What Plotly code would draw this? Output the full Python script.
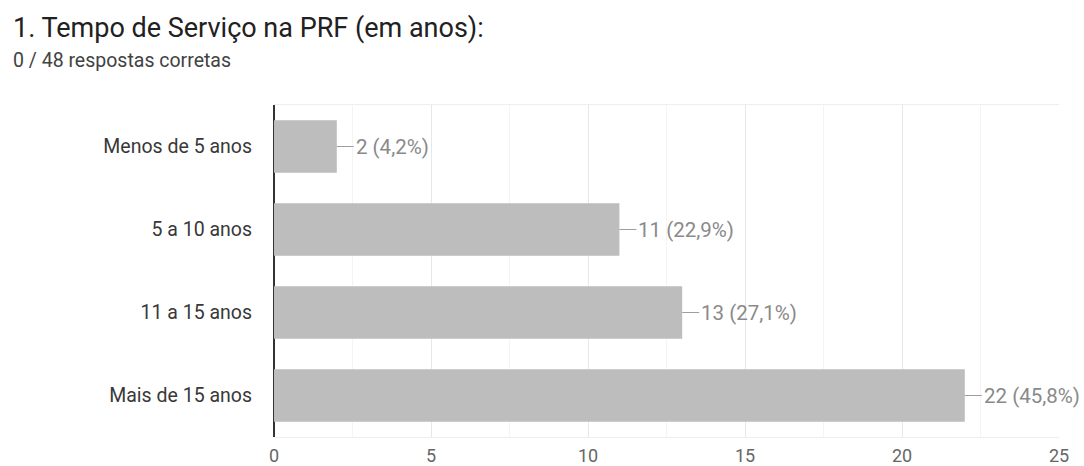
import plotly.graph_objects as go

categories = ["Menos de 5 anos", "5 a 10 anos", "11 a 15 anos", "Mais de 15 anos"]
values = [2, 11, 13, 22]
labels = ["2 (4,2%)", "11 (22,9%)", "13 (27,1%)", "22 (45,8%)"]
x_ticks = [0, 5, 10, 15, 20, 25]

FONT = "Roboto, Arial, sans-serif"
W, H = 1084, 466
L, R, T, B = 274, 25, 105, 29
PW, PH = W - L - R, H - T - B

fig = go.Figure()
fig.add_trace(go.Bar(
    x=values, y=categories, orientation="h",
    marker=dict(color="#bdbdbd", line=dict(width=0)),
    hoverinfo="skip",
))

anns = []
for v, c, t in zip(values, categories, labels):
    anns.append(dict(
        x=v, y=c, xref="x", yref="y", text=t,
        showarrow=True, arrowhead=0, arrowwidth=1, arrowcolor="#9e9e9e",
        ax=17, ay=0, xanchor="left", yanchor="middle",
        font=dict(family=FONT, size=20.5, color="#8a8a8a"),
    ))

anns.append(dict(text="1. Tempo de Serviço na PRF (em anos):", xref="paper", yref="paper",
                 x=(11 - L) / PW, y=1 + (T - 28) / PH, xanchor="left", yanchor="middle",
                 showarrow=False, font=dict(family=FONT, size=27, color="#212121")))
anns.append(dict(text="0 / 48 respostas corretas", xref="paper", yref="paper",
                 x=(11 - L) / PW, y=1 + (T - 61) / PH, xanchor="left", yanchor="middle",
                 showarrow=False, font=dict(family=FONT, size=19.5, color="#424242")))

fig.update_layout(
    width=W, height=H,
    margin=dict(l=L, r=R, t=T, b=B),
    paper_bgcolor="white", plot_bgcolor="white",
    showlegend=False, bargap=0.37,
    font=dict(family=FONT, size=19.5, color="#444"),
    annotations=anns,
)

fig.update_xaxes(
    range=[0, 25], tickvals=x_ticks, ticks="", showgrid=True, gridcolor="#e8e8e8",
    minor=dict(dtick=2.5, showgrid=True, gridcolor="#f4f4f4"),
    zeroline=True, zerolinecolor="#333333", zerolinewidth=1.5,
    showline=True, linecolor="#eeeeee", mirror=True, ticklabelstandoff=2,
    tickfont=dict(size=18, color="#666666"), fixedrange=True, automargin=False,
)
fig.update_yaxes(
    autorange="reversed", showgrid=False, ticks="", ticklabelstandoff=21,
    tickfont=dict(size=19.5, color="#383838"), fixedrange=True, automargin=False,
)

fig.write_html(
    "out.html",
    config={"displayModeBar": False},
    post_script="document.body.style.margin='0';document.body.style.overflow='hidden';",
)
